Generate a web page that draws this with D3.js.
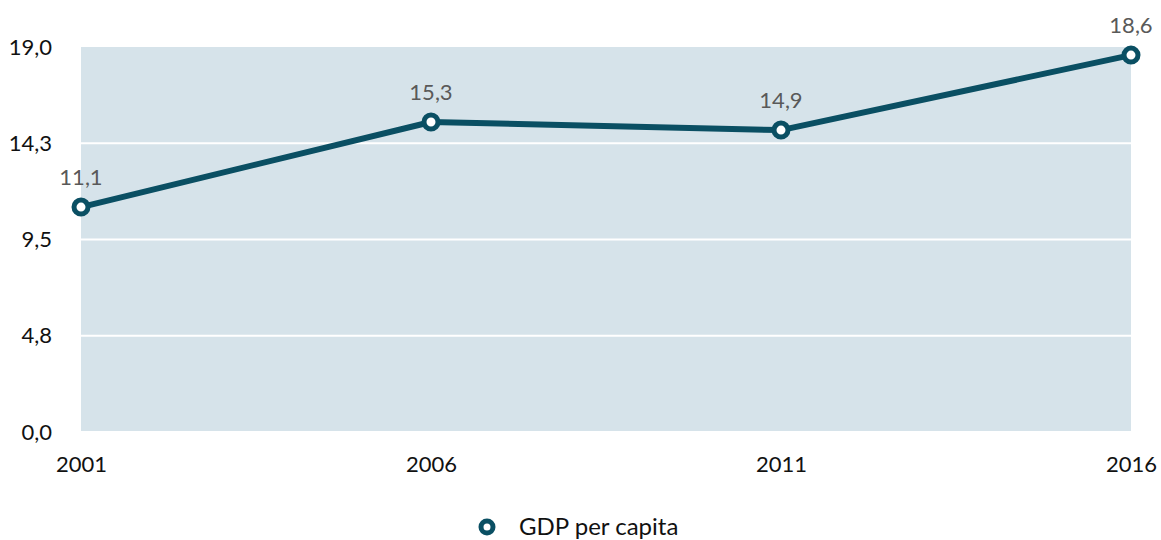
<!DOCTYPE html>
<html>
<head>
<meta charset="utf-8">
<script src="https://cdn.jsdelivr.net/npm/d3@7/dist/d3.min.js"></script>
<style>
  html, body { margin: 0; padding: 0; background: #ffffff; }
  svg text { font-family: "Lato", "Open Sans", sans-serif; }
</style>
</head>
<body>
<svg id="chart" width="1161" height="540"></svg>
<script>
// GDP per capita by census year
const years = ["2001", "2006", "2011", "2016"];
const gdpValues = [11.1, 15.3, 14.9, 18.6];
const yTicks = [0, 4.75, 9.5, 14.25, 19];
const seriesName = "GDP per capita";

const fmt = v => v.toFixed(1).replace(".", ",");

const svg = d3.select("#chart");
const margin = { left: 81, right: 30, top: 47, bottom: 108 };
const width = 1161, height = 540;

const x = d3.scalePoint().domain(years).range([margin.left, width - margin.right]);
const y = d3.scaleLinear().domain([0, 19]).range([height - margin.bottom, margin.top]);

// plot background
svg.append("rect")
  .attr("x", margin.left).attr("y", margin.top)
  .attr("width", width - margin.right - margin.left)
  .attr("height", y(0) - margin.top)
  .attr("fill", "#d6e3ea");

// horizontal gridlines
svg.append("g").selectAll("line").data(yTicks.slice(0, -1)).join("line")
  .attr("x1", margin.left).attr("x2", width - margin.right)
  .attr("y1", d => y(d)).attr("y2", d => y(d))
  .attr("stroke", "#ffffff").attr("stroke-width", 2);

// y axis labels
const yAxis = d3.axisLeft(y).tickValues(yTicks).tickFormat(fmt).tickSize(0).tickPadding(29);
const gy = svg.append("g").attr("transform", `translate(${margin.left},0)`).call(yAxis);
gy.select(".domain").remove();
gy.selectAll("text").attr("font-size", 22).attr("fill", "#111");

// x axis labels
const xAxis = d3.axisBottom(x).tickSize(0).tickPadding(24);
const gx = svg.append("g").attr("transform", `translate(0,${y(0)})`).call(xAxis);
gx.select(".domain").remove();
gx.selectAll("text").attr("font-size", 22).attr("fill", "#111");

const data = years.map((yr, i) => ({ yr, v: gdpValues[i] }));
const lineColor = "#0a4f63";

svg.append("path")
  .datum(data)
  .attr("fill", "none")
  .attr("stroke", lineColor)
  .attr("stroke-width", 6)
  .attr("stroke-linejoin", "round")
  .attr("d", d3.line().x(d => x(d.yr)).y(d => y(d.v)));

svg.append("g").selectAll("circle").data(data).join("circle")
  .attr("cx", d => x(d.yr)).attr("cy", d => y(d.v))
  .attr("r", 7)
  .attr("fill", "#ffffff")
  .attr("stroke", lineColor)
  .attr("stroke-width", 5);

// value labels
svg.append("g").selectAll("text").data(data).join("text")
  .attr("x", d => x(d.yr))
  .attr("y", d => y(d.v) - 22)
  .attr("text-anchor", "middle")
  .attr("font-size", 22)
  .attr("fill", "#595959")
  .text(d => fmt(d.v));

// legend
const lg = svg.append("g").attr("transform", "translate(487,527)");
lg.append("circle").attr("r", 6).attr("fill", "#ffffff")
  .attr("stroke", lineColor).attr("stroke-width", 5);
lg.append("text").attr("x", 32).attr("y", 8)
  .attr("font-size", 24).attr("fill", "#111").text(seriesName);
</script>
</body>
</html>
